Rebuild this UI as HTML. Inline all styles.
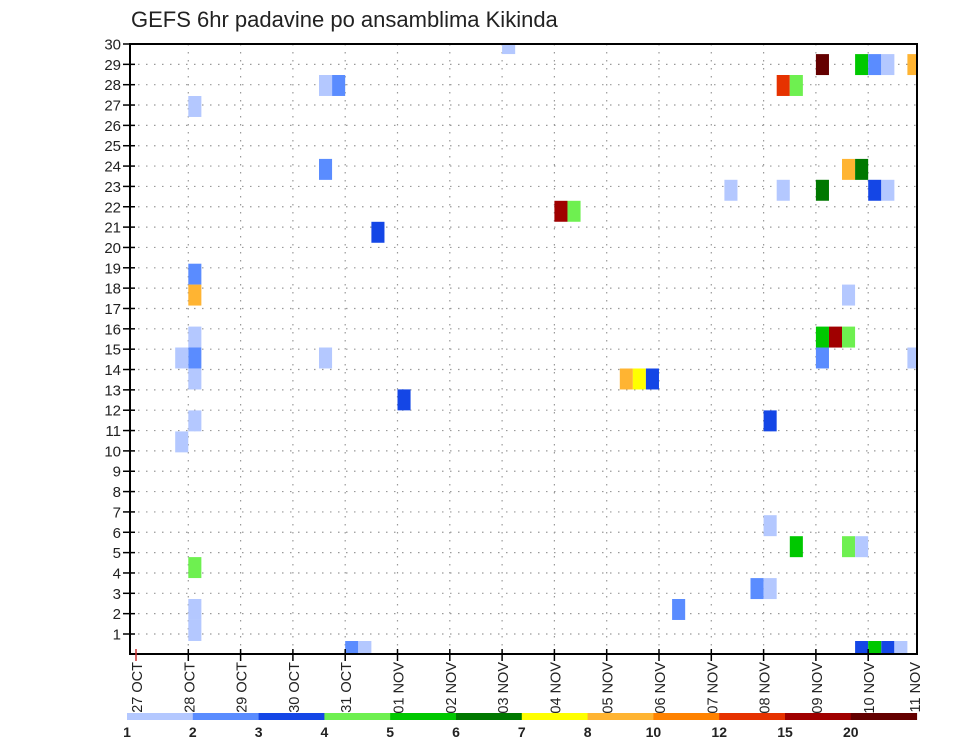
<!DOCTYPE html>
<html><head><meta charset="utf-8"><style>
html,body{margin:0;padding:0;background:#fff;}
svg{display:block;font-family:"Liberation Sans",sans-serif;}
</style></head><body>
<svg id="chart" width="960" height="742" xmlns="http://www.w3.org/2000/svg">
<text x="131" y="27" font-size="22" fill="#222">GEFS 6hr padavine po ansamblima Kikinda</text>
<g id="grid"></g>
<g id="cells"></g>
<g id="axes"></g>
<g id="legend"></g>
</svg>
<script>
const dayLabels = ["27 OCT","28 OCT","29 OCT","30 OCT","31 OCT","01 NOV","02 NOV","03 NOV","04 NOV","05 NOV","06 NOV","07 NOV","08 NOV","09 NOV","10 NOV","11 NOV"];
const memberTicks = [1,2,3,4,5,6,7,8,9,10,11,12,13,14,15,16,17,18,19,20,21,22,23,24,25,26,27,28,29,30];
const levels = [1,2,3,4,5,6,7,8,10,12,15,20];
const levelColors = ["#b4c8ff","#5a8cff","#1446e6","#6ef050","#00c800","#007800","#ffff00","#ffb432","#ff8200","#e63200","#a00000","#640000"];
// cells: 6-hour step index from 27 OCT 00z, ensemble member, precipitation value
const cellStep =   [28,52,55,56,57,59,49,50,54,55,45,49,52,56,57, 4,14,15,14,18,32,33, 4, 4, 4, 4, 3, 4, 4, 3,14,52,53,54,52,54,59,37,38,39,20,48,48,50,54,55, 4,47,48,41, 4, 4,16,17,55,56,57,58];
const cellMember = [30,29,29,29,29,29,28,28,24,24,23,23,23,23,23,27,28,28,24,21,22,22,19,18,16,15,15,14,12,11,15,16,16,16,15,18,15,14,14,14,13,12, 7, 6, 6, 6, 5, 4, 4, 3, 3, 2, 1, 1, 1, 1, 1, 1];
const cellValue =  [1.5,22,5.5,2.5,1.5,9,13,4.5,9,6.5,1.5,1.5,6.5,3.5,1.5,1.5,1.5,2.5,2.5,3.5,17,4.5,2.5,9,1.5,2.5,1.5,1.5,1.5,1.5,1.5,5.5,17,4.5,2.5,1.5,1.5,9,7.5,3.5,3.5,3.5,1.5,5.5,4.5,1.5,4.5,2.5,1.5,2.5,1.5,1.5,2.5,1.5,3.5,5.5,3.5,1.5];

const NS="http://www.w3.org/2000/svg";
const L=130,R=917,T=44,B=654;
const X0=136, DAY=52.3, STEP=DAY/4;
function xDay(d){return X0+d*DAY;}
function xStep(s){return X0+s*STEP;}
function yTick(m){return 634-(m-1)*(590/29);}
const CELLH=20.96;
function yCell(m){return 43.6+(30-m)*CELLH;}
function colorFor(v){let c=null;for(let k=0;k<levels.length;k++){if(v>=levels[k])c=levelColors[k];}return c;}
function mk(tag,attrs,parent){const e=document.createElementNS(NS,tag);for(const k in attrs)e.setAttribute(k,attrs[k]);parent.appendChild(e);return e;}

const grid=document.getElementById('grid'),cells=document.getElementById('cells'),axes=document.getElementById('axes'),legend=document.getElementById('legend');
for(const m of memberTicks){
  const y=yTick(m);
  const g=mk('line',{x1:L,x2:R,y1:y,y2:y,stroke:'#999','stroke-width':1.2,'stroke-dasharray':'1.5 6.5'},grid);
  
  
}
for(let d=1;d<15;d++){
  const x=xDay(d);
  const g=mk('line',{x1:x,x2:x,y1:T,y2:B,stroke:'#999','stroke-width':1.2,'stroke-dasharray':'1.5 6.5'},grid);
  
  
}
const clip=mk('clipPath',{id:'plotclip'},document.getElementById('chart'));
mk('rect',{x:L,y:T,width:R-L,height:B-T},clip);
cells.setAttribute('clip-path','url(#plotclip)');
for(let k=0;k<cellStep.length;k++){
  const x=xStep(cellStep[k]);
  const yc=yCell(cellMember[k]);
  const r=mk('rect',{x:x.toFixed(1),y:(yc-CELLH/2).toFixed(1),width:STEP.toFixed(2),height:CELLH,fill:colorFor(cellValue[k])},cells);
  
  
}
const fr=mk('rect',{x:L,y:T,width:R-L,height:B-T,fill:'none',stroke:'#000','stroke-width':2},axes);


for(const m of memberTicks){
  const y=yTick(m);
  mk('line',{x1:L-7,x2:L+5,y1:y,y2:y,stroke:'#000','stroke-width':1.5},axes);
  const t=mk('text',{x:L-9,y:y+5.5,'font-size':15,'text-anchor':'end',fill:'#222'},axes);
  t.textContent=m;
  
  
}
for(let d=0;d<dayLabels.length;d++){
  let x=xDay(d); if(d===dayLabels.length-1)x=R-3;
  if(d<dayLabels.length-1) mk('line',{x1:x,x2:x,y1:B-5,y2:B+7,stroke:d===0?'#c33':'#000','stroke-width':1.5},axes);
  const t=mk('text',{x:0,y:0,'font-size':14.5,'text-anchor':'end',fill:'#222',transform:'translate('+(x+6)+','+(B+8)+') rotate(-90)'},axes);
  t.textContent=dayLabels[d];
  
  
}
const CB0=127,CBW=65.8;
for(let k=0;k<levelColors.length;k++){
  const r=mk('rect',{x:(CB0+k*CBW).toFixed(1),y:713,width:(CBW+0.5).toFixed(1),height:7,fill:levelColors[k]},legend);
  
  
  const t=mk('text',{x:(CB0+k*CBW).toFixed(1),y:737,'font-size':14,'font-weight':'bold','text-anchor':'middle',fill:'#222'},legend);
  t.textContent=levels[k];
  
  
}
</script>
</body></html>
